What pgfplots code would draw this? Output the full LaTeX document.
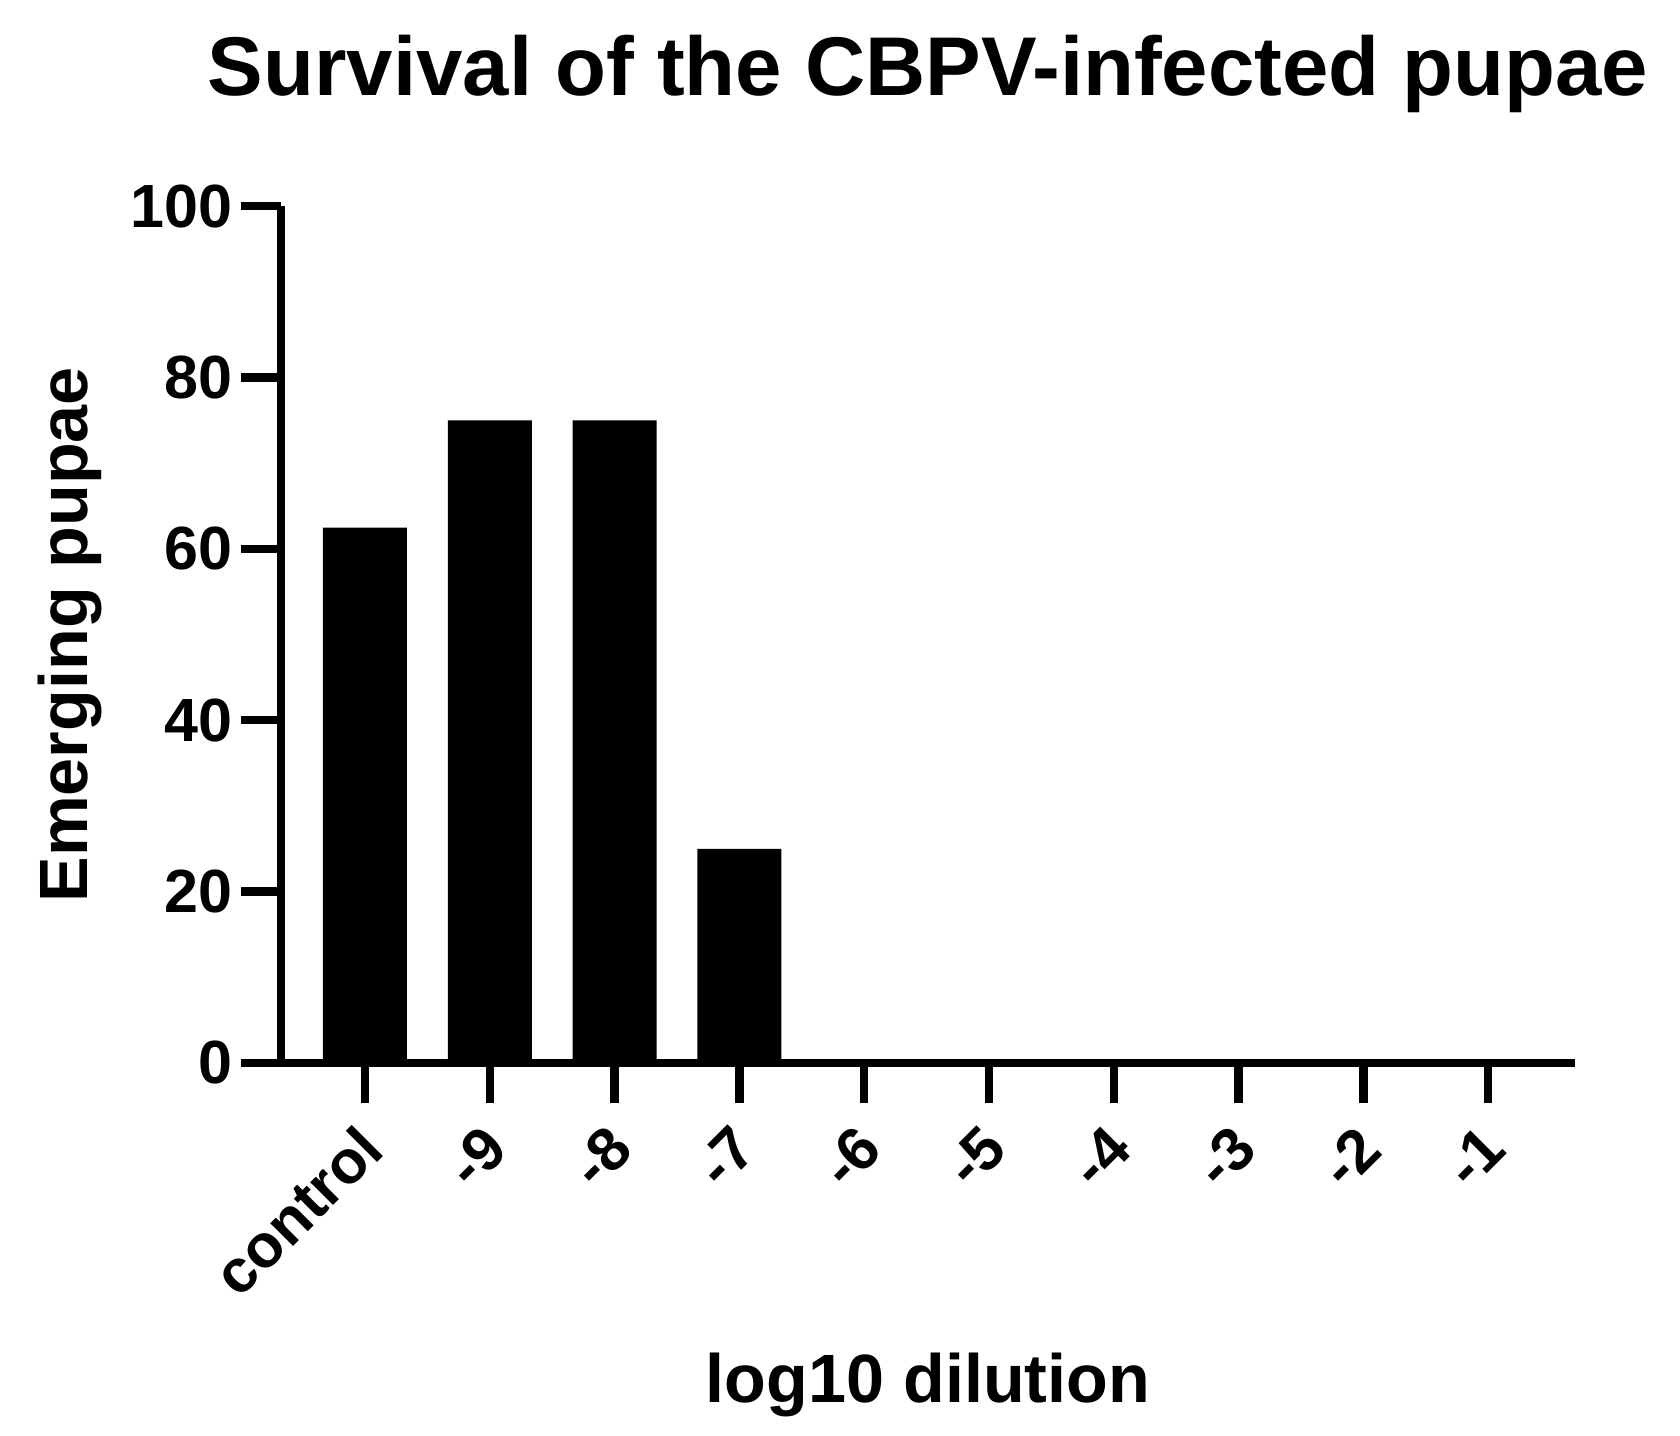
\documentclass[border=0pt]{standalone}
\usepackage{fontspec}
\setmainfont{Liberation Sans}
\usepackage{pgfplots}
\pgfplotsset{compat=1.18}

\begin{document}
\begin{tikzpicture}
% page size matched to the reference (1680x1436 px at 0.3pt/px)
\path[use as bounding box] (-84.3pt,-111.9pt) rectangle (419.7pt,318.9pt);
\begin{axis}[
  scale only axis,
  width=388.2pt, height=257pt,
  xmin=-0.673, xmax=9.696,
  ymin=0, ymax=100,
  ybar, bar width=0.673,
  axis lines=left,
  axis line style={line width=2.5pt,-},
  tick align=outside,
  major tick length=12pt,
  tick style={line width=2.5pt,black},
  xtick={0,...,9},
  xticklabels={control,-9,-8,-7,-6,-5,-4,-3,-2,-1},
  ytick={0,20,...,100},
  /pgf/number format/assume math mode=true,
  tick label style={font=\fontsize{18.3}{20}\selectfont\bfseries,inner sep=0pt},
  xticklabel style={rotate=45,anchor=east,xshift=2.6pt},
  yticklabel style={anchor=east},
  xticklabel shift=12.2pt,
  yticklabel shift=2.5pt,
  title={Survival of the CBPV-infected pupae},
  title style={font=\fontsize{25}{30}\selectfont\bfseries,
    at={([yshift=27.3pt]axis description cs:0.5,1)},anchor=base},
  xlabel={log10 dilution},
  xlabel style={font=\fontsize{20.5}{24}\selectfont\bfseries,
    at={([yshift=-102pt]axis description cs:0.5,0)},anchor=base},
  ylabel={Emerging pupae},
  ylabel style={font=\fontsize{20.5}{24}\selectfont\bfseries,
    at={([xshift=-57.9pt]axis description cs:0,0.5)},anchor=base},
]
\addplot[fill=black,draw=none] coordinates {
  (0,62.5)(1,75)(2,75)(3,25)(4,0)(5,0)(6,0)(7,0)(8,0)(9,0)
};
\end{axis}
\end{tikzpicture}
\end{document}
